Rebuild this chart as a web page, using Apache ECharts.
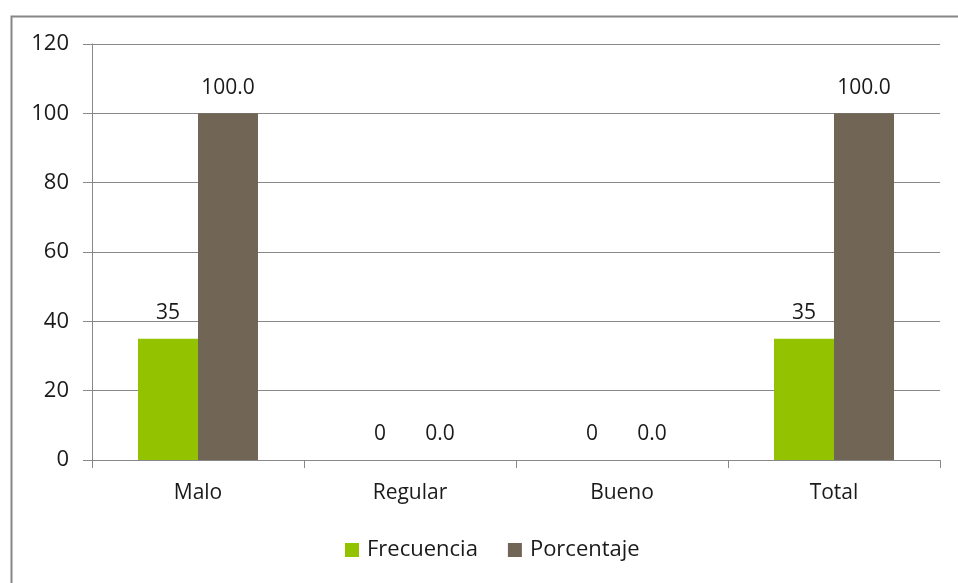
<!DOCTYPE html>
<html>
<head>
<meta charset="utf-8">
<style>html,body{margin:0;padding:0;background:#fff}#c{width:958px;height:583px}</style>
<script src="https://cdn.jsdelivr.net/npm/echarts@6/dist/echarts.min.js"></script>
</head>
<body>
<div id="c"></div>
<script>
const categories = ["Malo", "Regular", "Bueno", "Total"];
const frecuencia = [35, 0, 0, 35];
const porcentaje = [100.0, 0.0, 0.0, 100.0];
const yTicks = { min: 0, max: 120, interval: 20 };

const chart = echarts.init(document.getElementById('c'));
const font = '"Open Sans", "Noto Sans", sans-serif';
const txt = '#1a1a1a';
const fs = 21;
chart.setOption({
  animation: false,
  textStyle: { fontFamily: font },
  graphic: [{
    type: 'rect', left: 9, top: 14, shape: { width: 980, height: 600 },
    style: { fill: 'none', stroke: '#868686', lineWidth: 2 }, silent: true
  }],
  grid: { left: 92, right: 18, top: 44, bottom: 123, containLabel: false },
  legend: {
    bottom: 17, left: 340, itemWidth: 14, itemHeight: 14, itemGap: 30,
    icon: 'rect',
    textStyle: { fontSize: 22, color: txt, fontFamily: font, padding: [0, 0, 0, 3] },
    data: ['Frecuencia', 'Porcentaje']
  },
  xAxis: {
    type: 'category', data: categories,
    axisLine: { lineStyle: { color: '#888', width: 1 } },
    axisTick: { show: true, length: 8, lineStyle: { color: '#888' } },
    axisLabel: { fontSize: fs, color: txt, margin: 23, fontFamily: font }
  },
  yAxis: {
    type: 'value', min: yTicks.min, max: yTicks.max, interval: yTicks.interval,
    axisLine: { show: true, lineStyle: { color: '#888', width: 1 } },
    axisTick: { show: true, length: 9, lineStyle: { color: '#888' } },
    axisLabel: { fontSize: 22, color: txt, margin: 23, fontFamily: font },
    splitLine: { lineStyle: { color: '#888', width: 1 } }
  },
  series: [
    {
      name: 'Frecuencia', type: 'bar', data: frecuencia,
      barWidth: 60, barGap: '0%',
      itemStyle: { color: '#92C200' },
      label: { show: true, position: 'top', distance: 15, fontSize: fs, color: txt,
        formatter: p => String(p.value) }
    },
    {
      name: 'Porcentaje', type: 'bar', data: porcentaje,
      barWidth: 60, barGap: '0%',
      itemStyle: { color: '#716656' },
      label: { show: true, position: 'top', distance: 15, fontSize: fs, color: txt,
        formatter: p => Number(p.value).toFixed(1) }
    }
  ]
});
</script>
</body>
</html>
